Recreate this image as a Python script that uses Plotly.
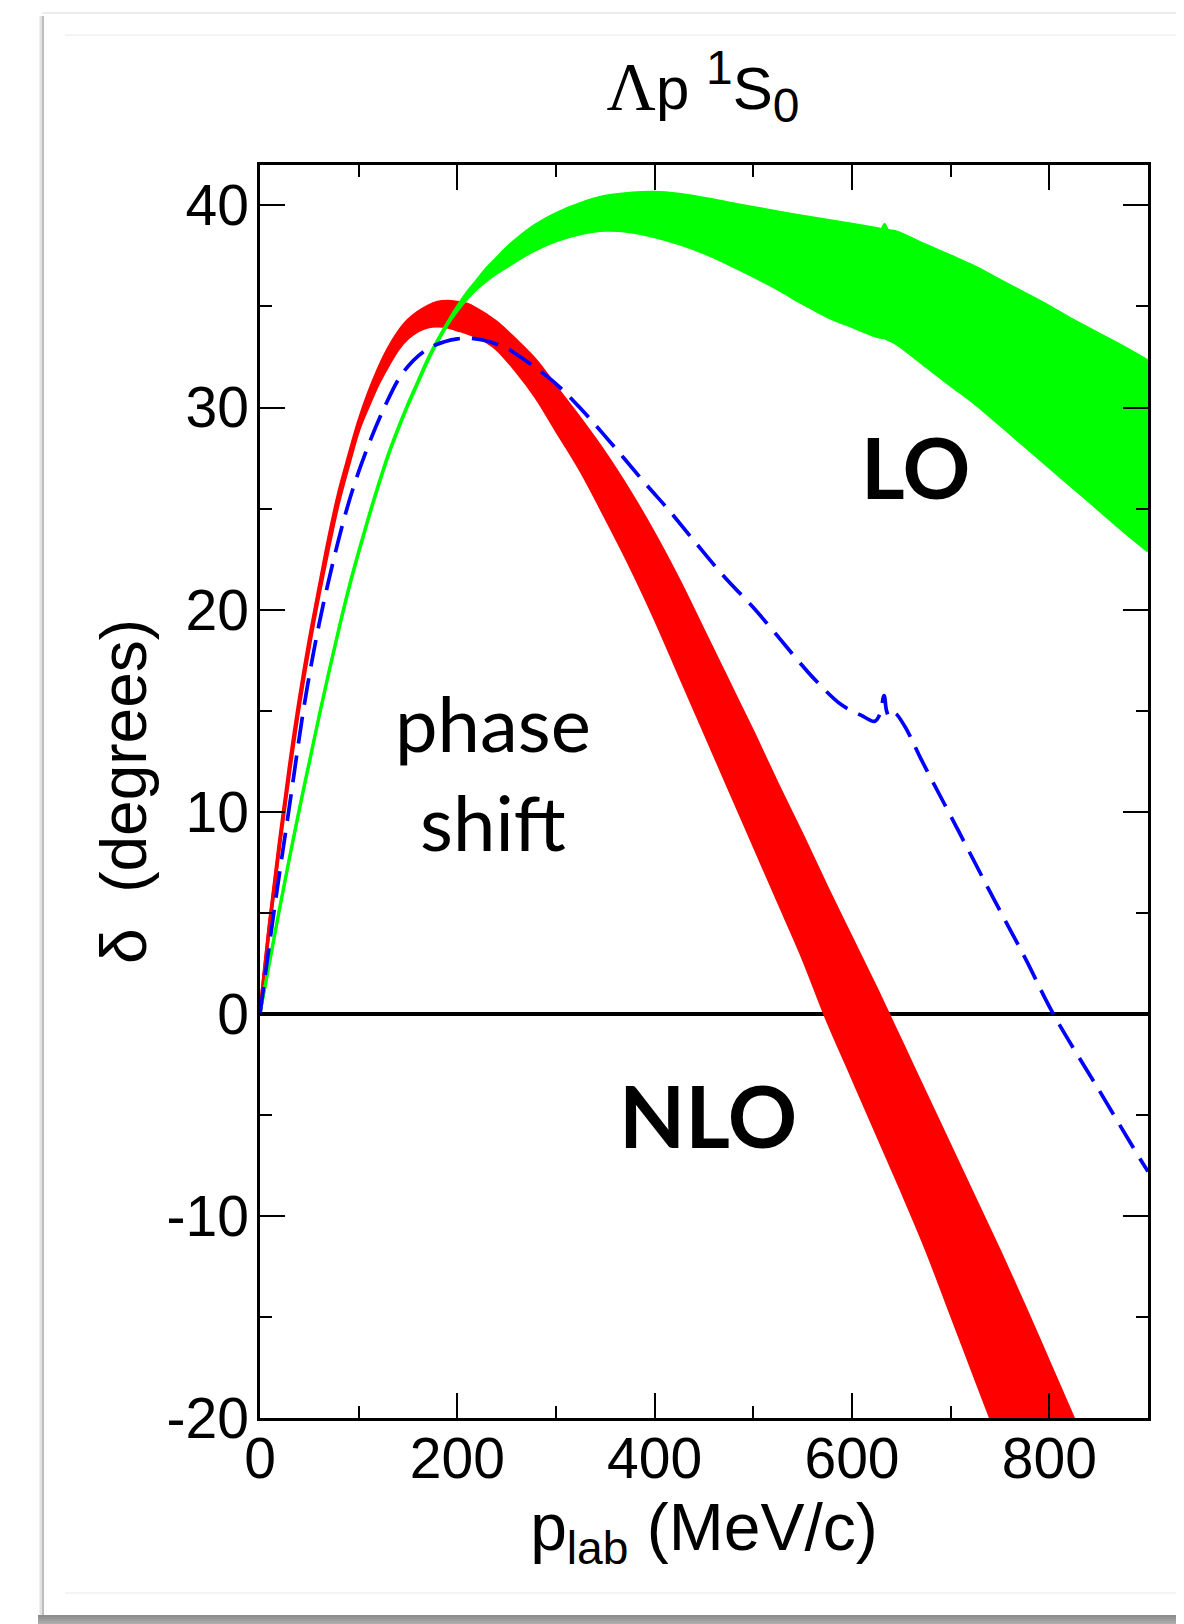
import plotly.graph_objects as go

# ---------------- data ----------------
p_nlo = [0, 10, 20, 30, 40, 50, 60, 70, 80, 90, 100, 110, 120, 130, 140, 150, 160, 170, 180, 190,
         200, 210, 220, 230, 240, 260, 280, 300, 325, 350, 375, 400, 425, 450, 475, 500, 525, 550,
         575, 600, 625, 650, 675, 700, 725, 750, 775, 800, 825, 850]
nlo_upper = [0, 4.6, 8.6, 12.3, 15.6, 18.5, 21.1, 23.6, 25.8, 27.6, 29.3, 30.7, 31.9, 32.9, 33.7, 34.3,
             34.7, 35.0, 35.2, 35.25, 35.2, 35.1, 34.85, 34.55, 34.2, 33.3, 32.3, 31.0, 29.4, 27.7, 25.8,
             23.7, 21.4, 18.9, 16.4, 13.9, 11.3, 8.8, 6.2, 3.7, 1.2, -1.4, -4.0, -6.6, -9.2, -11.8,
             -14.5, -17.3, -20.1, -23.0]
nlo_lower = [0, 4.5, 8.4, 12.0, 15.3, 18.2, 20.8, 23.2, 25.4, 27.2, 28.9, 30.1, 31.2, 32.1, 32.9, 33.45,
             33.8, 34.0, 34.05, 34.0, 33.85, 33.7, 33.5, 33.25, 32.9, 31.8, 30.5, 28.9, 26.9, 24.6, 22.2,
             19.6, 16.8, 14.0, 11.2, 8.4, 5.6, 2.8, -0.3, -3.1, -5.9, -8.7, -11.6, -14.8, -18.0, -21.2,
             -24.4, -27.6, -30.8, -34.0]

p_lo = [0, 10, 20, 30, 40, 50, 60, 70, 80, 90, 100, 110, 120, 130, 140, 150, 160, 170, 180, 190, 200,
        210, 220, 230, 240, 250, 275, 300, 325, 350, 375, 400, 425, 450, 475, 500, 525, 550, 575, 600,
        625, 630, 633, 636, 645, 675, 700, 725, 750, 775, 800, 825, 850, 875, 900]
lo_upper = [0, 2.7, 5.3, 7.8, 10.2, 12.5, 14.8, 17.0, 19.1, 21.1, 22.9, 24.6, 26.2, 27.7, 29.0, 30.2,
            31.3, 32.4, 33.35, 34.2, 35.0, 35.7, 36.3, 36.9, 37.4, 37.9, 38.9, 39.6, 40.1, 40.45, 40.6,
            40.65, 40.55, 40.35, 40.12, 39.9, 39.68, 39.47, 39.27, 39.07, 38.86, 38.82, 39.05, 38.78,
            38.69, 38.03, 37.5, 36.95, 36.3, 35.65, 35.0, 34.3, 33.65, 33.0, 32.3]
lo_lower = [0, 2.6, 5.2, 7.7, 10.1, 12.4, 14.7, 16.9, 19.0, 21.0, 22.8, 24.5, 26.1, 27.6, 28.9, 30.1,
            31.2, 32.3, 33.25, 34.1, 34.8, 35.4, 35.9, 36.3, 36.65, 36.96, 37.7, 38.25, 38.6, 38.77, 38.7,
            38.45, 38.1, 37.65, 37.1, 36.5, 35.85, 35.15, 34.5, 34.0, 33.52, 33.46, 33.45, 33.38, 33.16,
            32.04, 31.1, 30.18, 29.15, 28.1, 27.05, 26.0, 24.95, 23.9, 22.9]

p_dash = [0, 14, 29, 48, 68, 95, 126, 146, 170, 200, 227, 251, 264, 298, 324, 360, 393, 413, 440, 471,
          500, 545, 560, 589, 609, 623, 628, 632.5, 635, 638, 643, 653, 670, 706, 741, 775, 804, 850,
          893, 900]
delta_dash = [0, 5.0, 10.0, 16.2, 21.1, 26.1, 30.0, 31.8, 32.9, 33.4, 33.33, 32.9, 32.5, 31.26, 30.0,
              28.0, 26.1, 25.0, 23.4, 21.6, 20.1, 17.5, 16.66, 15.3, 14.78, 14.47, 14.8, 15.75, 15.0,
              14.68, 14.88, 14.27, 12.6, 9.23, 5.93, 2.8, 0, -3.75, -7.26, -7.8]

x_ticks = [0, 200, 400, 600, 800]
y_ticks = [-20, -10, 0, 10, 20, 30, 40]

title_text = ("<span style=\"font-family:'Liberation Serif';font-size:68px\">Λ</span>p "
              "<sup><span style=\"font-size:48px\">1</span></sup>S"
              "<sub><span style=\"font-size:48px\">0</span></sub>")
x_title = "p<sub>lab</sub> (MeV/c)"
y_title = "δ  (degrees)"

# ---------------- layout geometry ----------------
W, H = 1184, 1624
L, R, T, B = 252, 1140, 157, 1410


def fx(X):
    return (X - L) / (R - L)


def fy(Y):
    return (B - Y) / (B - T)


fig = go.Figure()

# NLO band (red): lower edge, then upper edge filled down to it
fig.add_trace(go.Scatter(x=p_nlo, y=nlo_lower, mode="lines", line_shape="spline",
                         line=dict(color="#ff0000", width=3.5), name="NLO lower", hoverinfo="skip"))
fig.add_trace(go.Scatter(x=p_nlo, y=nlo_upper, mode="lines", line_shape="spline",
                         fill="tonexty", fillcolor="#ff0000",
                         line=dict(color="#ff0000", width=3.5), name="NLO", hoverinfo="skip"))

# LO band (green)
fig.add_trace(go.Scatter(x=p_lo, y=lo_lower, mode="lines", line_shape="spline",
                         line=dict(color="#00ff00", width=3), name="LO lower", hoverinfo="skip"))
fig.add_trace(go.Scatter(x=p_lo, y=lo_upper, mode="lines", line_shape="spline",
                         fill="tonexty", fillcolor="#00ff00",
                         line=dict(color="#00ff00", width=3), name="LO", hoverinfo="skip"))

# dashed blue
fig.add_trace(go.Scatter(
    x=p_dash, y=delta_dash, mode="lines", line_shape="spline",
    line=dict(color="#0000ff", width=3.7, dash="27px,12px"), name="dashed"))

axis_common = dict(
    showline=True, linecolor="black", linewidth=2.5, mirror="allticks",
    ticks="inside", ticklen=25, tickwidth=2, tickcolor="black",
    showgrid=False,
    tickfont=dict(family="Liberation Sans, Arial, sans-serif", size=57, color="black"),
)

fig.update_xaxes(
    range=[0, 900], tickvals=x_ticks, ticktext=[str(v) for v in x_ticks],
    minor=dict(ticks="inside", ticklen=12, tickwidth=2, tickcolor="black", dtick=100, tick0=0),
    zeroline=False, ticklabelstandoff=-11,
    title=dict(text=x_title, standoff=0,
               font=dict(family="Liberation Sans, Arial, sans-serif", size=66, color="black")),
    **axis_common)
fig.update_yaxes(
    range=[-20, 42], tickvals=y_ticks, ticktext=[str(v) for v in y_ticks],
    minor=dict(ticks="inside", ticklen=12, tickwidth=2, tickcolor="black", dtick=5, tick0=0),
    zeroline=True, zerolinecolor="black", zerolinewidth=3.5, ticklabelstandoff=-3,
    title=dict(text=y_title, standoff=0,
               font=dict(family="Liberation Sans, Arial, sans-serif", size=64, color="black")),
    **axis_common)

# card frame / shadow decoration
shapes = []
shapes.append(dict(type="line", xref="paper", yref="paper", x0=fx(33), x1=fx(33), y0=fy(8), y1=fy(1607),
                   line=dict(color="#e2e2e2", width=3), layer="below"))
shapes.append(dict(type="line", xref="paper", yref="paper", x0=fx(35), x1=fx(35), y0=fy(8), y1=fy(1607),
                   line=dict(color="#bdbdbd", width=2), layer="below"))
shapes.append(dict(type="line", xref="paper", yref="paper", x0=fx(34), x1=fx(1184), y0=fy(5), y1=fy(5),
                   line=dict(color="#ececec", width=2), layer="below"))
for yy in (27, 1585):
    shapes.append(dict(type="line", xref="paper", yref="paper", x0=fx(57), x1=fx(1184), y0=fy(yy), y1=fy(yy),
                       line=dict(color="#f0f0f0", width=1.5), layer="below"))
shadow_cols = ["#8c8c8c", "#959595", "#9e9e9e", "#a7a7a7", "#b0b0b0", "#b9b9b9", "#c2c2c2", "#cbcbcb", "#d4d4d4"]
for i, c in enumerate(shadow_cols):
    y0 = 1607 + i * 2
    shapes.append(dict(type="rect", xref="paper", yref="paper", x0=fx(30), x1=fx(1184),
                       y0=fy(y0 + 2), y1=fy(y0), fillcolor=c, line=dict(width=0), layer="below"))

annotations = [
    dict(text="<b>LO</b>", x=fx(907), y=fy(458), xref="paper", yref="paper", showarrow=False,
         xanchor="center", yanchor="middle", font=dict(family="Lato, sans-serif", size=84, color="black")),
    dict(text="<b>NLO</b>", x=fx(700), y=fy(1106), xref="paper", yref="paper", showarrow=False,
         xanchor="center", yanchor="middle", font=dict(family="Lato, sans-serif", size=86, color="black")),
    dict(text="phase<br>shift", x=fx(485), y=fy(764), xref="paper", yref="paper", showarrow=False,
         xanchor="center", yanchor="middle", align="center",
         font=dict(family="Lato, sans-serif", size=76, color="black")),
]

fig.update_layout(
    width=W, height=H,
    margin=dict(l=L, r=W - R, t=T, b=H - B, autoexpand=False),
    paper_bgcolor="white", plot_bgcolor="white",
    showlegend=False,
    title=dict(text=title_text, x=fx(695), xref="paper", xanchor="center",
               y=1 - 80 / H, yref="container", yanchor="middle",
               font=dict(family="Liberation Sans, Arial, sans-serif", size=60, color="black")),
    shapes=shapes, annotations=annotations,
)

fig.write_html("out.html")
